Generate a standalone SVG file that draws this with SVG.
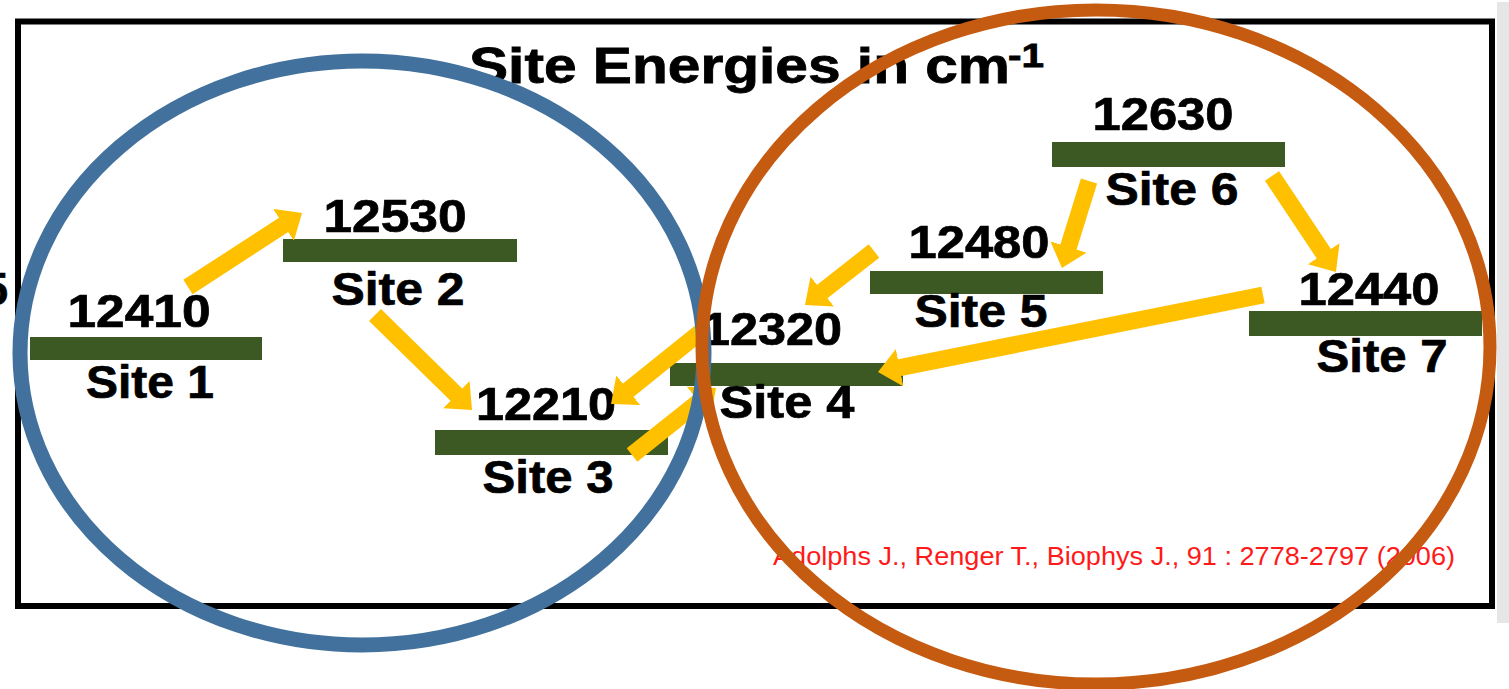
<svg xmlns="http://www.w3.org/2000/svg" width="1509" height="689" viewBox="0 0 1509 689">
  <style>
    .lbl { font-family: "Liberation Sans", Arial, sans-serif; font-weight: bold; font-size: 46px; fill: #000; stroke: #000; stroke-width: 0.7; text-anchor: middle; }
    .bar { fill: #3c5823; }
    .arrow { stroke: #ffc000; stroke-width: 17; fill: none; stroke-linecap: butt; marker-end: url(#head); }
    .cite { font-family: "Liberation Sans", Arial, sans-serif; font-size: 25px; fill: #ff1a1a; }
  </style>
  <defs>
    <marker id="head" viewBox="0 -19 22 38" markerUnits="userSpaceOnUse" markerWidth="22" markerHeight="38" refX="1" refY="0" orient="auto">
      <path d="M0,-19 L22,0 L0,19 Z" fill="#ffc000"/>
    </marker>
  </defs>

  <rect width="1509" height="689" fill="#ffffff"/>
  <!-- page edge strip -->
  <rect x="1497" y="2" width="12" height="621" fill="#e6e6e6"/>

  <!-- frame -->
  <rect x="18" y="21.5" width="1474" height="584.5" fill="none" stroke="#000" stroke-width="6"/>
  <!-- clipped label at left margin -->
  <text class="lbl" x="8" y="305" style="text-anchor:end">5</text>

  <!-- title -->
  <text font-family="Liberation Sans, Arial, sans-serif" font-weight="bold" fill="#000" stroke="#000" stroke-width="0.8">
    <tspan x="469" y="83" font-size="50" textLength="541" lengthAdjust="spacingAndGlyphs">Site Energies in cm</tspan>
    <tspan x="1008" y="67" font-size="34" textLength="36" lengthAdjust="spacingAndGlyphs">-1</tspan>
  </text>

  <!-- energy levels -->
  <g id="site1">
    <rect class="bar" x="30" y="337" width="232" height="23"/>
    <text class="lbl" x="139" y="327" textLength="143" lengthAdjust="spacingAndGlyphs">12410</text>
    <text class="lbl" x="150" y="398" textLength="128" lengthAdjust="spacingAndGlyphs">Site 1</text>
  </g>
  <g id="site2">
    <rect class="bar" x="283" y="239" width="234" height="23"/>
    <text class="lbl" x="395" y="232" textLength="143" lengthAdjust="spacingAndGlyphs">12530</text>
    <text class="lbl" x="398" y="305" textLength="133" lengthAdjust="spacingAndGlyphs">Site 2</text>
  </g>
  <g id="site3">
    <rect class="bar" x="435" y="430" width="233" height="25"/>
    <text class="lbl" x="546" y="420" textLength="140" lengthAdjust="spacingAndGlyphs">12210</text>
    <text class="lbl" x="548" y="493" textLength="131" lengthAdjust="spacingAndGlyphs">Site 3</text>
  </g>
  <g id="site4">
    <rect class="bar" x="670" y="363" width="233" height="23"/>
    <text class="lbl" x="772" y="345" textLength="140" lengthAdjust="spacingAndGlyphs">12320</text>
    <text class="lbl" x="787" y="418" textLength="135" lengthAdjust="spacingAndGlyphs">Site 4</text>
  </g>
  <g id="site5">
    <rect class="bar" x="870" y="271" width="233" height="23"/>
    <text class="lbl" x="979" y="258" textLength="141" lengthAdjust="spacingAndGlyphs">12480</text>
    <text class="lbl" x="981" y="327" textLength="133" lengthAdjust="spacingAndGlyphs">Site 5</text>
  </g>
  <g id="site6">
    <rect class="bar" x="1052" y="142" width="233" height="25"/>
    <text class="lbl" x="1163" y="130" textLength="141" lengthAdjust="spacingAndGlyphs">12630</text>
    <text class="lbl" x="1172" y="205" textLength="133" lengthAdjust="spacingAndGlyphs">Site 6</text>
  </g>
  <g id="site7">
    <rect class="bar" x="1249" y="311" width="233" height="25"/>
    <text class="lbl" x="1369" y="305" textLength="141" lengthAdjust="spacingAndGlyphs">12440</text>
    <text class="lbl" x="1382" y="372" textLength="131" lengthAdjust="spacingAndGlyphs">Site 7</text>
  </g>

  <!-- energy transfer arrows -->
  <g id="connectors">
    <line class="arrow" x1="188" y1="287" x2="284.4" y2="224.4"/>
    <line class="arrow" x1="375" y1="315" x2="457.0" y2="395.3"/>
    <line class="arrow" x1="703" y1="330" x2="627.4" y2="390.8"/>
    <line class="arrow" x1="632" y1="455" x2="699.6" y2="401.1"/>
    <line class="arrow" x1="874" y1="251" x2="821.5" y2="292.1"/>
    <line class="arrow" x1="1089" y1="181" x2="1068.2" y2="247.9"/>
    <line class="arrow" x1="1272" y1="176" x2="1324.3" y2="254.5"/>
    <line class="arrow" x1="1263" y1="295" x2="898.6" y2="367.9"/>
  </g>

  <text class="cite" x="773" y="565" textLength="682" lengthAdjust="spacingAndGlyphs">Adolphs J., Renger T., Biophys J., 91 : 2778-2797 (2006)</text>

  <!-- groupings -->
  <g id="groups" fill="none">
    <ellipse cx="362" cy="353" rx="342" ry="292" stroke="#41719c" stroke-width="15"/>
    <ellipse cx="1096" cy="347" rx="394" ry="337" stroke="#c55a11" stroke-width="13"/>
  </g>
</svg>
